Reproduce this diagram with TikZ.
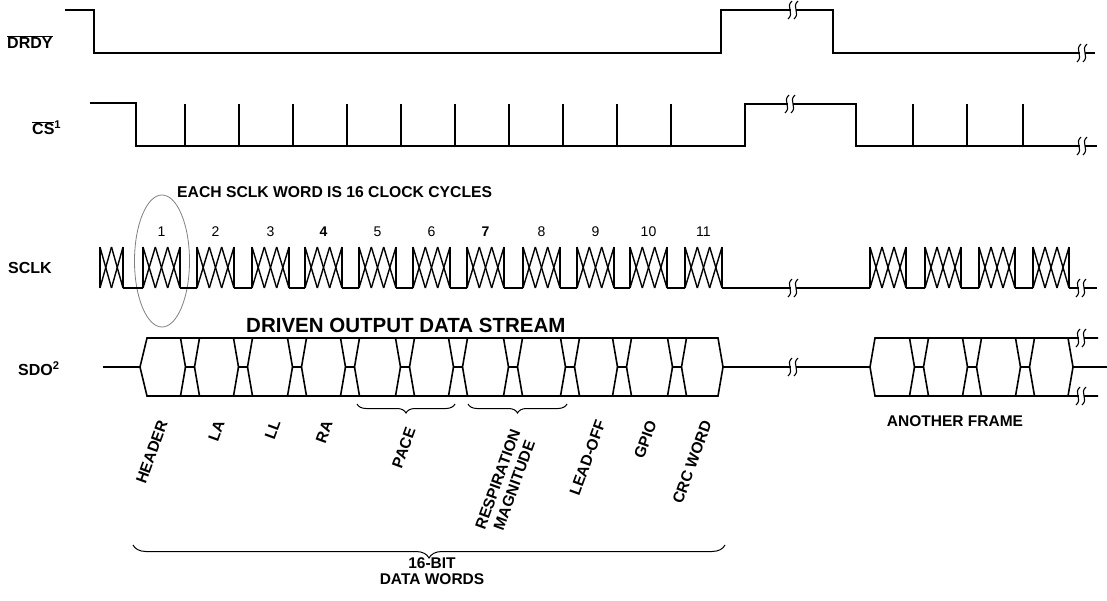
\documentclass[tikz,border=0pt]{standalone}
\usepackage{fontspec}
\setmainfont{Liberation Sans}
\usetikzlibrary{decorations.pathreplacing}
\newcommand\sclkburst[3]{%
  \draw[burst] (#1,288) -- (#1,247);
  \draw[burst] (#1+#2,288) -- (#1+#2,247);
  \foreach \k in {1,...,#3}{%
    \pgfmathsetmacro\xa{#1+(\k-1)*#2/#3}%
    \pgfmathsetmacro\xb{#1+\k*#2/#3}%
    \draw[burst] (\xa,247) -- (\xb,288);
    \draw[burst] (\xa,288) -- (\xb,247);
  }}
\newcommand\brkmark[2]{%
  \fill[white] (#1-2.5,#2-3) rectangle (#1+2.5,#2+3);
  \draw[brkline] (#1-1,#2-9) .. controls (#1-8,#2-3) and (#1+2,#2+3) .. (#1-5,#2+9);
  \draw[brkline] (#1+5,#2-9) .. controls (#1-2,#2-3) and (#1+8,#2+3) .. (#1+1,#2+9);}
\newcommand\sdotrans[1]{%
  \draw[sig] (#1-9.5,338) -- (#1-4.5,367) -- (#1+4.5,367) -- (#1+9.5,338);
  \draw[sig] (#1-9.5,396) -- (#1-4.5,367);
  \draw[sig] (#1+4.5,367) -- (#1+9.5,396);}
\begin{document}
\begin{tikzpicture}[x=1pt,y=-1pt,
  sig/.style={line width=1.6pt, line join=miter, line cap=butt},
  burst/.style={line width=1.4pt, line cap=butt},
  brkline/.style={line width=1.1pt},
  siglabel/.style={font=\bfseries\fontsize{16}{18}\selectfont, anchor=west, inner sep=0pt},
  num/.style={font=\fontsize{14}{15}\selectfont, inner sep=0pt},
  wordlabel/.style={font=\bfseries\fontsize{15.5}{17.5}\selectfont, rotate=70, anchor=east, inner sep=0pt, align=center},
  bracepath/.style={decorate, line width=1pt}]
\useasboundingbox (0,0) rectangle (1107,601);

% ---------- labels ----------
\node[siglabel] (lDRDY) at (7,42) {$\overline{\mbox{DRDY}}$};
\node[siglabel] (lCS) at (32,128) {$\overline{\mbox{CS}}$\textsuperscript{1}};
\node[siglabel] (lSCLK) at (8,268) {SCLK};
\node[siglabel] (lSDO) at (18,369) {SDO\textsuperscript{2}};

% ---------- DRDY ----------
\draw[sig] (65,10) -- (94,10) -- (94,53) -- (721,53) -- (721,10) -- (833,10) -- (833,53) -- (1095,53);
\brkmark{793}{10}
\brkmark{1082}{53}

% ---------- CS ----------
\draw[sig] (90,103) -- (136,103) -- (136,146) -- (745,146) -- (745,104) -- (856,104) -- (856,146) -- (1097,146);
\foreach \i in {0,...,9}{\draw[sig] (185+54*\i,146) -- (185+54*\i,104);}
\foreach \x in {913,967,1023}{\draw[sig] (\x,146) -- (\x,104);}
\brkmark{790}{104}
\brkmark{1082}{146}

% ---------- SCLK ----------
\node[font=\bfseries\fontsize{15.7}{17}\selectfont, anchor=west, inner sep=0pt] (title) at (177,192) {EACH SCLK WORD IS 16 CLOCK CYCLES};
\draw[gray, line width=0.8pt] (162,261) ellipse (27.5 and 66);
\sclkburst{100}{23}{2}
\foreach \s [count=\i] in {143,197,252,305,359,413,467,523,577,630,685}{%
  \sclkburst{\s}{37}{3}
  \node[num] (n\i) at (\s+18.5,232) {\ifnum\i=4 \bfseries\fi\ifnum\i=7 \bfseries\fi\i};
}
\foreach \s in {870,925,979,1033}{\sclkburst{\s}{36}{3}}
\foreach \a/\b in {123/143,180/197,234/252,289/305,342/359,396/413,450/467,504/523,560/577,614/630,667/685,722/870,906/925,961/979,1015/1033,1069/1097}{%
  \draw[sig] (\a,288) -- (\b,288);}
\brkmark{793}{288}
\brkmark{1081}{288}

% ---------- SDO ----------
\node[font=\bfseries\fontsize{20.5}{22}\selectfont, anchor=west, inner sep=0pt] (drv) at (246,325) {DRIVEN OUTPUT DATA STREAM};
\draw[sig] (103,367) -- (140,367);
\draw[sig] (718,338) -- (147,338) -- (140,367) -- (147,396) -- (718,396) -- (723,367) -- cycle;
\foreach \c in {190,243,297,350,405,458,513,570,622,677}{\sdotrans{\c}}
\draw[sig] (723,367) -- (870,367);
\brkmark{793}{367}
\draw[sig] (1098,338) -- (875,338) -- (870,367) -- (875,396) -- (1098,396);
\draw[sig] (1068,338) -- (1073,367) -- (1068,396);
\draw[sig] (1073,367) -- (1107,367);
\foreach \c in {919,972,1025}{\sdotrans{\c}}
\brkmark{1081}{338}
\brkmark{1081}{396}

% ---------- braces ----------
\draw[bracepath, decoration={brace, amplitude=9pt}] (455,404) -- (357,404);
\draw[bracepath, decoration={brace, amplitude=9pt}] (567,404) -- (468,404);
\draw[bracepath, decoration={brace, amplitude=13pt}] (725,545) -- (133,545);

% ---------- word labels ----------
\node[wordlabel] (wHeader) at (163,421) {HEADER};
\node[wordlabel] (wLA) at (220,421) {LA};
\node[wordlabel] (wLL) at (276,421) {LL};
\node[wordlabel] (wRA) at (328,421) {RA};
\node[wordlabel] (wPace) at (411,428) {PACE};
\node[wordlabel] (wResp) at (524,433) {RESPIRATION\\MAGNITUDE};
\node[wordlabel] (wLead) at (601,421) {LEAD-OFF};
\node[wordlabel] (wGpio) at (652,421) {GPIO};
\node[wordlabel] (wCrc) at (707,421) {CRC WORD};
\node[font=\bfseries\fontsize{15.5}{16}\selectfont, inner sep=0pt] (another) at (955,421) {ANOTHER FRAME};
\node[font=\bfseries\fontsize{15.5}{15.5}\selectfont, align=center, inner sep=0pt] (dw) at (432,571) {16-BIT\\DATA WORDS};
\end{tikzpicture}
\end{document}
